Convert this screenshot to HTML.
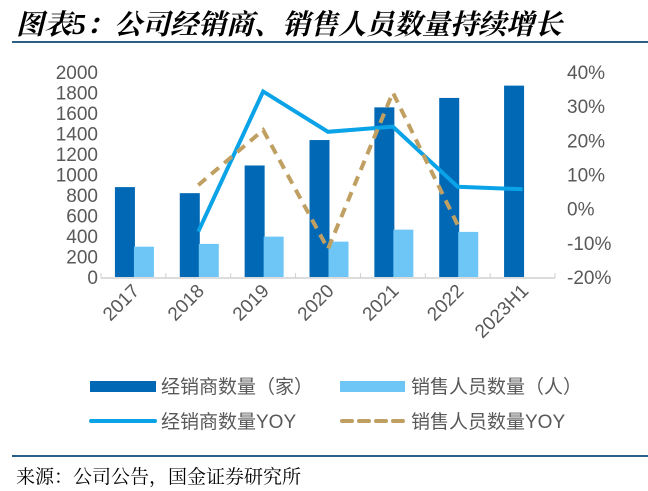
<!DOCTYPE html>
<html><head><meta charset="utf-8"><style>
body{margin:0;background:#fff;}
svg{display:block;}
</style></head><body>
<svg id="c" width="648" height="491" xmlns="http://www.w3.org/2000/svg">
<text x="16" y="34" font-family="'Liberation Serif','Noto Serif CJK SC',serif" font-size="28" font-weight="bold" font-style="italic" fill="#000">图表5：公司经销商、销售人员数量持续增长</text>
<rect x="12" y="41" width="636" height="2" fill="#2a5f86"/>
<g id="plot"></g>
<g font-family="'Liberation Sans','Noto Sans CJK SC',sans-serif" font-size="19" fill="#595959">
<rect x="90" y="381" width="66" height="11" fill="#0068b5"/>
<text x="161" y="393">经销商数量（家）</text>
<rect x="340" y="381" width="65" height="11" fill="#6dc6f5"/>
<text x="411" y="393">销售人员数量（人）</text>
<line x1="91" y1="421" x2="155" y2="421" stroke="#0aa3e8" stroke-width="4" stroke-linecap="round"/>
<text x="161" y="428">经销商数量YOY</text>
<line x1="342" y1="421" x2="404" y2="421" stroke="#c0a062" stroke-width="4" stroke-dasharray="10,7" stroke-linecap="round"/>
<text x="411" y="428">销售人员数量YOY</text>
</g>
<rect x="12" y="455" width="636" height="2" fill="#2a5f86"/>
<text x="16" y="483" font-family="'Liberation Serif','Noto Serif CJK SC',serif" font-size="19" fill="#000">来源：公司公告，国金证券研究所</text>
</svg>
<script>
const categories=["2017","2018","2019","2020","2021","2022","2023H1"];
const dealers=[877,818,1088,1336,1655,1747,1867];
const sales=[296,323,394,345,462,440,null];
const dealersYoy=[null,-6.7,34.3,22.5,24.0,6.4,5.7];
const salesYoy=[null,6.9,23.0,-11.8,34.0,-4.8,null];
const leftTicks=[0,200,400,600,800,1000,1200,1400,1600,1800,2000];
const rightTicks=[-20,-10,0,10,20,30,40];

const NS="http://www.w3.org/2000/svg";
const g=document.getElementById('plot');
const x0=101,x1=555,yB=277,yT=72;
const step=(x1-x0)/categories.length;
const yL=v=>yB-(v/2000)*(yB-yT);
const yR=v=>yB-((v+20)/60)*(yB-yT);
const cx=i=>x0+step*(i+0.5);
function mk(t,a){const e=document.createElementNS(NS,t);for(const k in a)e.setAttribute(k,a[k]);g.appendChild(e);return e;}
const font="'Liberation Sans','Noto Sans CJK SC',sans-serif";
leftTicks.forEach(v=>{const e=mk('text',{x:98,y:yL(v)+7,'text-anchor':'end','font-family':font,'font-size':19,fill:'#595959'});e.textContent=v;

});
rightTicks.forEach(v=>{const e=mk('text',{x:567,y:yR(v)+7,'font-family':font,'font-size':19,fill:'#595959'});e.textContent=v+'%';

});
categories.forEach((c,i)=>{
 const b=mk('rect',{x:cx(i)-18.5,y:yL(dealers[i]),width:20,height:yB-yL(dealers[i]),fill:'#0068b5'});
 
 
 if(sales[i]!=null){const s=mk('rect',{x:cx(i)+0.5,y:yL(sales[i]),width:20,height:yB-yL(sales[i]),fill:'#6dc6f5'});
 
 }
 const tx=cx(i)+7,ty=292;
 const t=mk('text',{x:tx,y:ty,'text-anchor':'end','font-family':font,'font-size':19,fill:'#595959',transform:`rotate(-45 ${tx} ${ty})`});t.textContent=c;
 
 
});
const ax=mk('line',{x1:x0,y1:yB+1,x2:x1,y2:yB+1,stroke:'#d0d0d0','stroke-width':1.5});


for(let i=0;i<=categories.length;i++){const tk=mk('line',{x1:x0+step*i,y1:yB+1,x2:x0+step*i,y2:yB-4,stroke:'#d0d0d0','stroke-width':1});

}
function path(arr){return arr.map((v,i)=>v==null?null:[cx(i),yR(v)]).filter(p=>p).map((p,j)=>(j?'L':'M')+p[0]+' '+p[1]).join(' ');}
const l1=mk('path',{d:path(dealersYoy),fill:'none',stroke:'#0aa3e8','stroke-width':4,'stroke-linejoin':'miter'});


const l2=mk('path',{d:path(salesYoy),fill:'none',stroke:'#c0a062','stroke-width':4,'stroke-dasharray':'10,7'});


</script>
</body></html>
